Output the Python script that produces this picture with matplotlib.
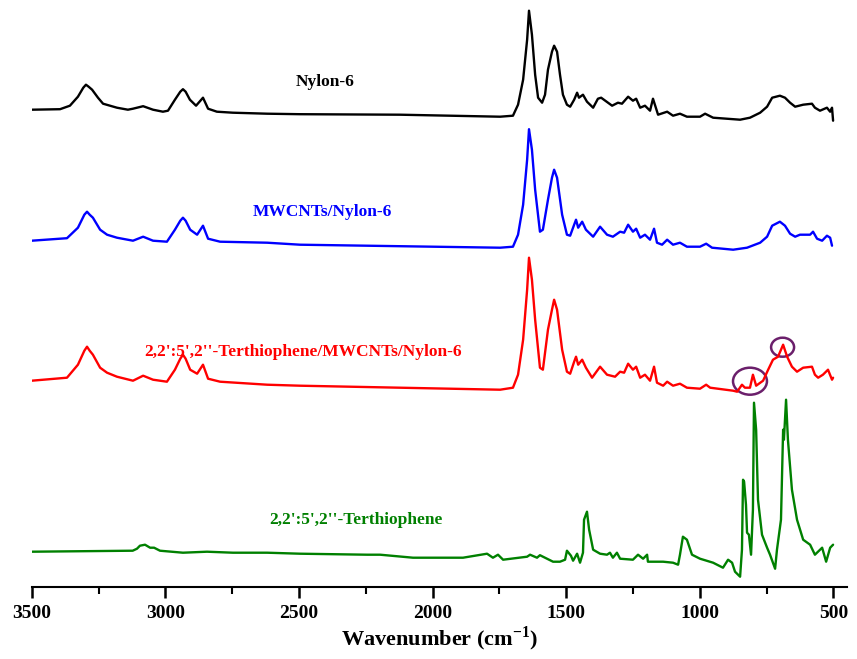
import matplotlib
matplotlib.use("Agg")
import matplotlib.pyplot as plt
from matplotlib.patches import Ellipse
from matplotlib.ticker import MultipleLocator

plt.rcParams['font.family'] = ['Liberation Serif', 'DejaVu Serif']
plt.rcParams['font.weight'] = 'bold'
plt.rcParams['mathtext.fontset'] = 'custom'
plt.rcParams['mathtext.rm'] = 'Liberation Serif:bold'
plt.rcParams['mathtext.bf'] = 'Liberation Serif:bold'

# wavenumber (cm-1) and relative intensity (arb. units)
nylon_wn = [3500, 3394, 3357, 3327, 3307, 3297, 3287, 3274, 3252, 3233, 3181, 3140, 3121, 3083,
            3046, 3009, 2990, 2964, 2944, 2934, 2924, 2908, 2885, 2859, 2840, 2807, 2747, 2619,
            2496, 2122, 1747, 1699, 1680, 1661, 1646, 1639, 1628, 1616, 1605, 1590, 1579, 1568,
            1553, 1545, 1534, 1523, 1512, 1497, 1485, 1470, 1459, 1452, 1437, 1422, 1399, 1381,
            1369, 1328, 1306, 1291, 1268, 1250, 1238, 1223, 1205, 1186, 1175, 1156, 1122,
            1100, 1074, 1048, 999, 980, 950, 849, 812, 774, 748, 729, 700, 681, 662, 643,
            613, 580, 569, 550, 524, 512, 505, 501]
nylon_int = [1, 1.5, 5, 14, 23, 26, 24, 21, 13, 7, 3, 1, 2, 4.5,
             1, -1, 0, 11, 19, 21.5, 19, 11, 5, 13, 2, -1, -2, -3,
             -3.5, -4, -6, -5, 6, 31, 71, 100, 76, 36, 13, 8, 16, 41,
             59, 65, 59, 36, 16, 6, 4, 11, 18, 13, 16, 9, 3, 12,
             13, 5, 8, 7, 14, 10, 12, 3, 5, 0, 12, -4, -1,
             -5, -3, -6, -6, -3, -7, -9, -7, -2, 4, 13, 15, 13, 8, 4,
             6, 7, 3, 0, 3, -1, 3, -10]

mwcnt_wn = [3500, 3368, 3327, 3303, 3293, 3283, 3271, 3244, 3218, 3181, 3121, 3083, 3046, 2994,
            2964, 2944, 2934, 2924, 2907, 2881, 2859, 2840, 2795, 2619, 2496, 1747, 1699, 1680,
            1661, 1646, 1639, 1628, 1616, 1598, 1587, 1568, 1553, 1545, 1534, 1515, 1497, 1485,
            1470, 1463, 1455, 1440, 1426, 1399, 1373, 1347, 1325, 1298, 1283, 1268, 1250, 1238,
            1223, 1205, 1186, 1171, 1160, 1141, 1122, 1100, 1074, 1048, 999, 976, 954, 875,
            823, 774, 748, 729, 700, 681, 662, 643, 625, 587, 576, 561, 542, 524, 512, 505]
mwcnt_int = [0, 2.5, 13, 26, 29, 26, 23, 11, 6, 3, 0, 4, 0, -1,
             11, 20, 23, 20, 11, 6, 15, 2, -1, -2, -4, -7, -6, 6,
             36, 81, 111.5, 91, 51, 9, 11, 41, 63, 71, 63, 26, 6, 5,
             16, 21, 13, 19, 11, 4, 14, 6, 4, 9, 8, 16, 9, 12,
             3, 6, 1, 12, -2, -4, 1, -4, -2, -6, -6, -3, -7, -9,
             -7, -2, 4, 15, 19, 15, 7, 4, 6, 6, 9, 2, 0, 5, 3, -5]

composite_wn = [3500, 3368, 3327, 3303, 3293, 3283, 3271, 3244, 3218, 3181, 3121, 3083, 3046,
                2994, 2964, 2944, 2934, 2924, 2907, 2881, 2859, 2840, 2795, 2619, 2496, 1747,
                1699, 1680, 1661, 1646, 1639, 1628, 1616, 1598, 1587, 1568, 1553, 1545, 1534,
                1515, 1497, 1485, 1470, 1463, 1455, 1440, 1426, 1403, 1373, 1347, 1317, 1298,
                1283, 1268, 1250, 1238, 1223, 1205, 1186, 1171, 1160, 1137, 1122, 1100, 1074,
                1048, 999, 976, 961, 875, 860, 842, 831, 812, 801, 789, 763, 744, 726, 707,
                688, 673, 655, 636, 613, 580, 569, 557, 539, 520, 505, 501]
composite_int = [0, 3, 16, 30, 34, 30, 26, 13, 8, 4, 0, 5, 1,
                 -1, 11, 22, 26, 22, 11, 7, 16, 2, -1, -4, -5, -9,
                 -7, 6, 41, 91, 123, 101, 61, 13, 11, 51, 71, 81, 71,
                 31, 9, 7, 19, 24, 16, 21, 13, 3, 14, 6, 4, 9,
                 8, 17, 11, 14, 3, 6, 0, 14, -2, -5, -1, -5, -3,
                 -7, -8, -4, -7, -10, -11, -4, -7, -7, 6, -5, 0, 11, 21, 24,
                 36, 24, 14, 9, 13, 14, 6, 3, 6, 11, 1, 3]

terth_wn = [3500, 3122, 3106, 3095, 3076, 3057, 3042, 3020, 2934, 2844, 2747, 2619, 2496,
            2245, 2196, 2073, 1886, 1796, 1774, 1755, 1736, 1646, 1635, 1609, 1598, 1549,
            1523, 1504, 1497, 1482, 1474, 1459, 1448, 1437, 1433, 1422, 1414, 1399, 1373,
            1347, 1336, 1325, 1310, 1298, 1250, 1231, 1212, 1197, 1194, 1160, 1149, 1137,
            1100, 1081, 1074, 1063, 1048, 1029, 999, 950, 913, 894, 879, 868, 849, 842, 838,
            834, 827, 823, 816, 808, 801, 797, 789, 782, 767, 748, 737, 718, 711, 696, 688,
            685, 677, 670, 655, 636, 613, 587, 569, 542, 527, 512, 501]
terth_int = [0, 1, 3, 6, 7, 4, 4, 1, -1, 0, -1, -1, -2,
             -3, -3, -6, -6, -2, -6, -3, -8, -5, -3, -6, -3.5, -10,
             -10, -8, 1, -4, -9, -2, -11, -1, 32, 40, 22, 2, -2,
             -3, -1, -6, -1, -7, -8, -3, -7, -3, -10, -10, -10, -10,
             -11, -13, -3, 15, 12, -3, -7, -11, -16, -8, -11, -20, -25, 2, 72,
             70, 47, 19, 17, -3, 42, 149, 122, 52, 17, 4, -3, -17, 2, 32, 122,
             112, 152, 112, 62, 32, 12, 7, -3, 4, -10, 4, 7]

labels = ["Nylon-6", "MWCNTs/Nylon-6", "2,2':5',2''-Terthiophene/MWCNTs/Nylon-6",
          "2,2':5',2''-Terthiophene"]
colors = ["black", "#0000ff", "#ff0000", "#008000"]
offsets = [476, 346, 206, 35]
label_pos = [(2402, 505), (2414, 375), (2485, 235), (2286, 67)]

fig = plt.figure(figsize=(8.57, 6.59), dpi=100)
ax = fig.add_axes([0.037, 0.1097, 0.951, 0.8903])

series = [(nylon_wn, nylon_int), (mwcnt_wn, mwcnt_int),
          (composite_wn, composite_int), (terth_wn, terth_int)]
for (wn, inten), off, c, lab, (lx, ly) in zip(series, offsets, colors, labels, label_pos):
    ax.plot(wn, [v + off for v in inten], color=c, lw=1.7,
            solid_joinstyle='round', solid_capstyle='round')
    ax.text(lx, ly, lab, color=c, fontsize=12.5, fontweight='bold',
            ha='center', va='center')

# circled new bands in the composite spectrum
ax.add_patch(Ellipse((812, 205.5), 127, 27, fill=False, ec='#6b1f6b', lw=1.8))
ax.add_patch(Ellipse((690, 239.5), 86, 19, fill=False, ec='#6b1f6b', lw=1.8))

ax.set_xlim(3500, 450)
ax.set_ylim(0, 586.7)
ax.xaxis.set_major_locator(MultipleLocator(500))
ax.xaxis.set_minor_locator(MultipleLocator(250))
ax.tick_params(axis='x', which='major', length=8, width=1.8, labelsize=14, pad=5)
ax.tick_params(axis='x', which='minor', length=5, width=1.5)
ax.set_yticks([])
for s in ['left', 'right', 'top']:
    ax.spines[s].set_visible(False)
ax.spines['bottom'].set_linewidth(1.5)
ax.set_xlabel("Wavenumber (cm$^{-1}$)", fontsize=16, fontweight='bold', labelpad=2)

fig.savefig("out.png", dpi=100)
